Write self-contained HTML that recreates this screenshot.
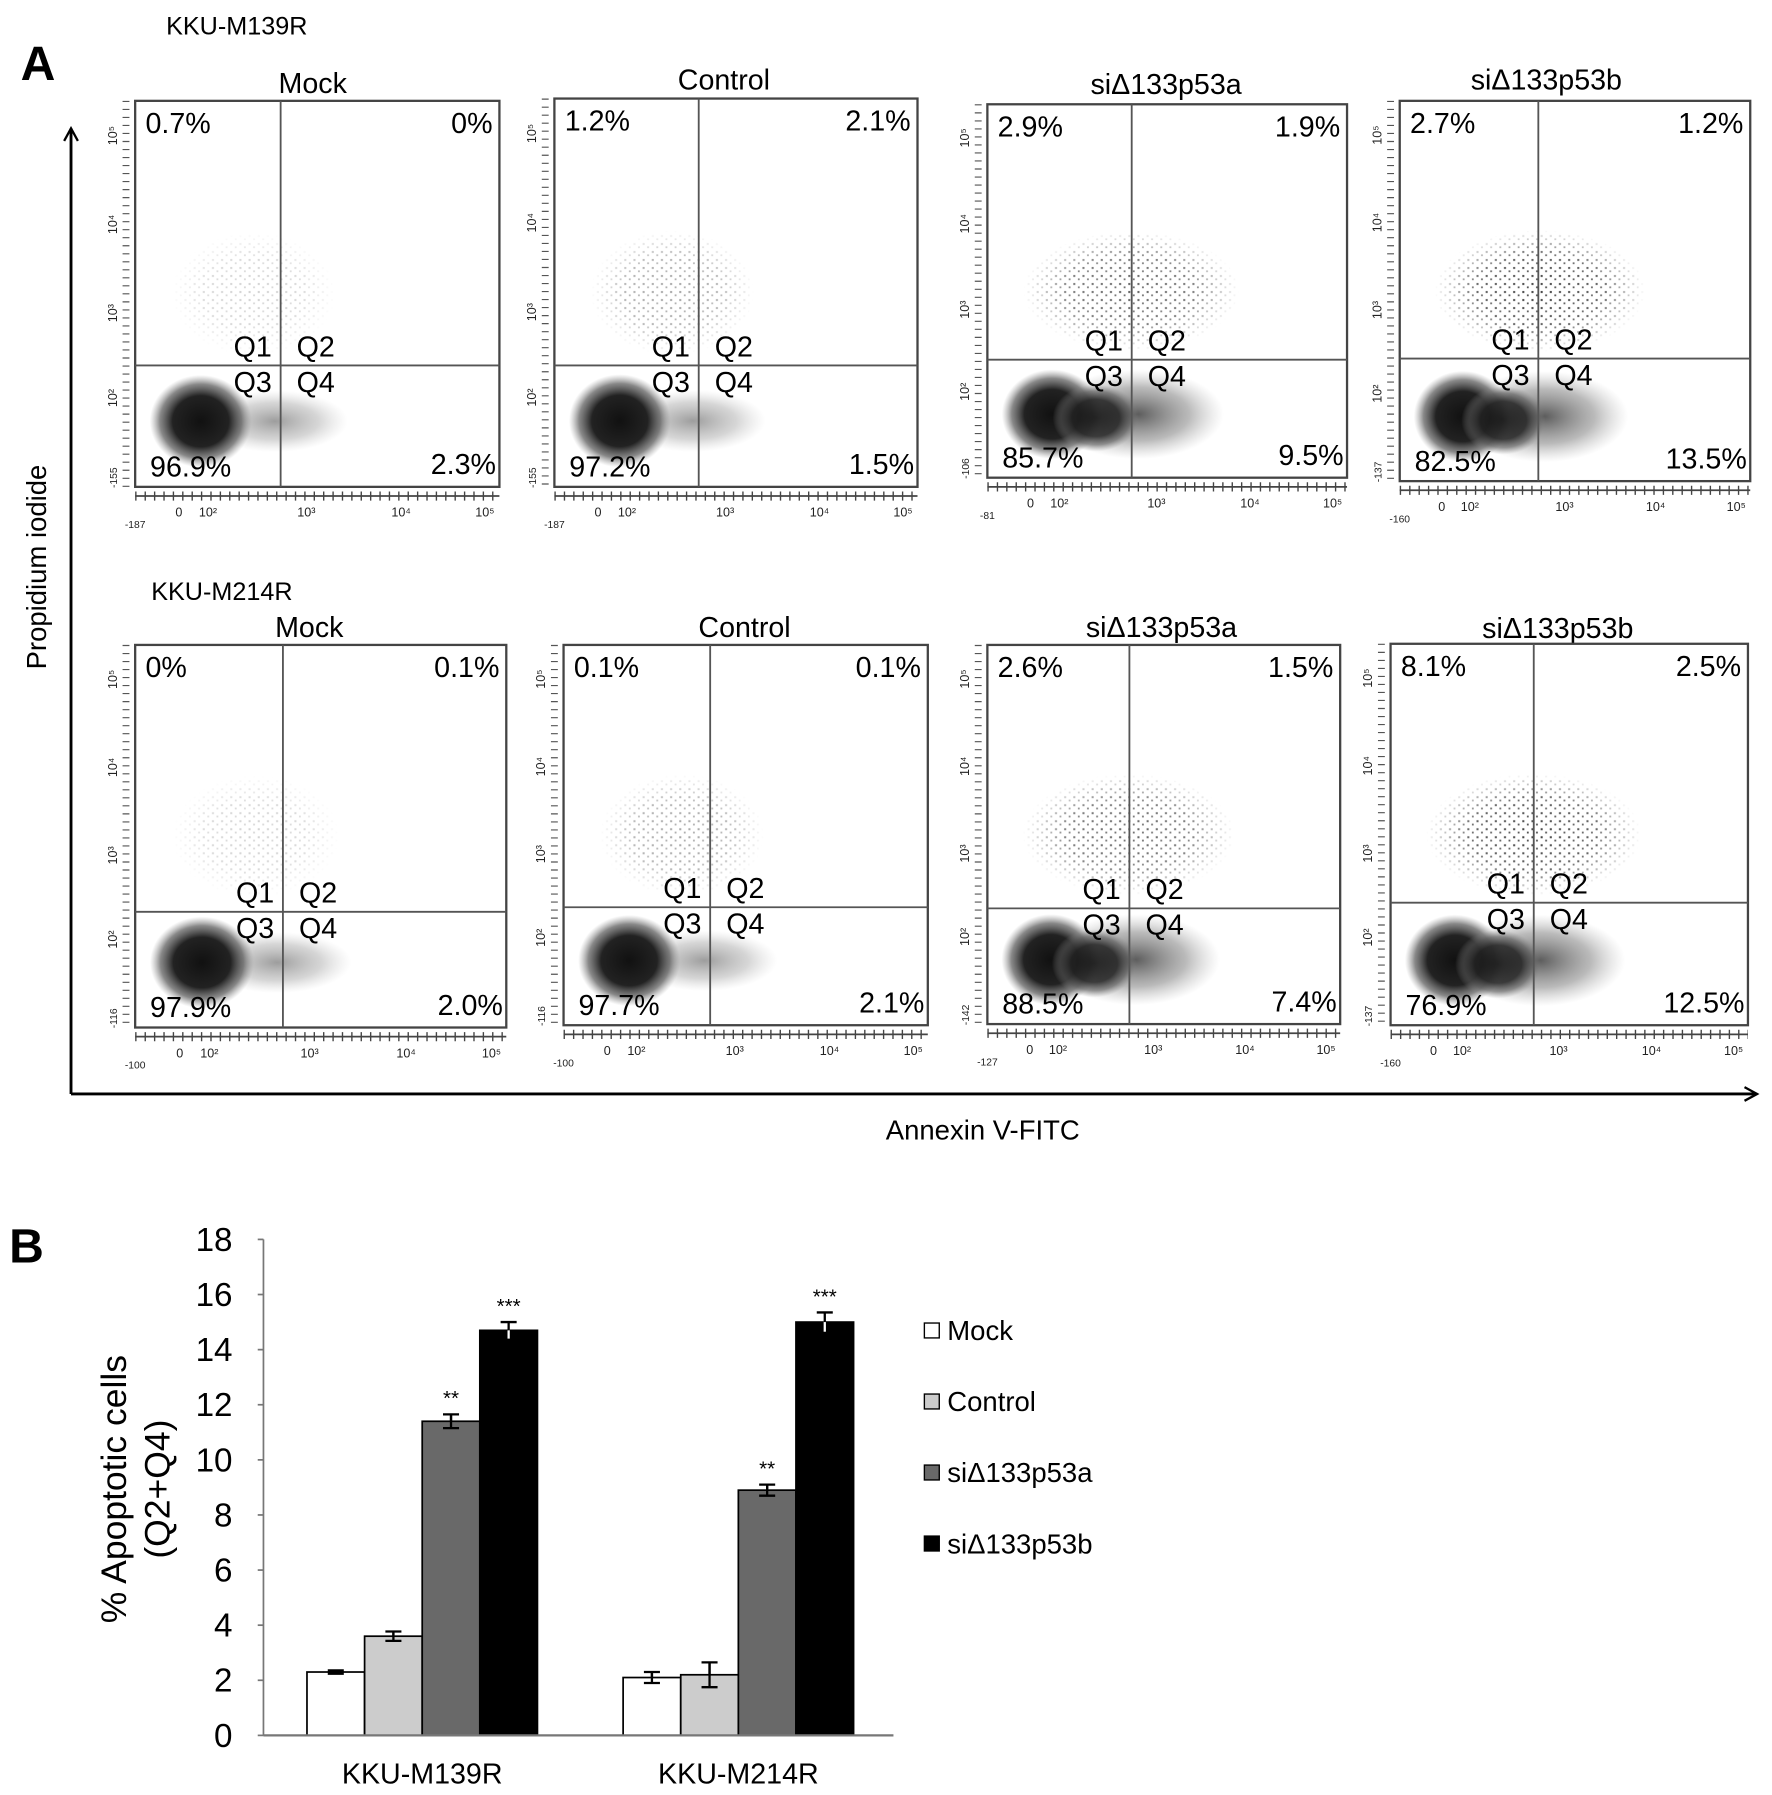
<!DOCTYPE html>
<html><head><meta charset="utf-8"><style>
html,body{margin:0;padding:0;background:#fff}
svg{display:block;font-family:"Liberation Sans",Arial,sans-serif}
</style></head><body>
<svg id="fig" width="1772" height="1795" viewBox="0 0 1547 1567" xmlns="http://www.w3.org/2000/svg">
<defs>
<radialGradient id="core"><stop offset="0" stop-color="#111"/><stop offset="0.55" stop-color="#222"/><stop offset="0.8" stop-color="#555" stop-opacity="0.7"/><stop offset="1" stop-color="#888" stop-opacity="0"/></radialGradient>
<radialGradient id="tail"><stop offset="0" stop-color="#333" stop-opacity="0.8"/><stop offset="0.6" stop-color="#666" stop-opacity="0.45"/><stop offset="1" stop-color="#999" stop-opacity="0"/></radialGradient>
<pattern id="dots" width="8" height="7" patternUnits="userSpaceOnUse"><rect x="1" y="2" width="1.8" height="1.8" fill="#222"/><rect x="5" y="5" width="1.6" height="1.6" fill="#333"/></pattern>
<radialGradient id="fade"><stop offset="0" stop-color="#fff" stop-opacity="1"/><stop offset="0.6" stop-color="#fff" stop-opacity="0.8"/><stop offset="1" stop-color="#fff" stop-opacity="0"/></radialGradient>
<mask id="m1" maskContentUnits="objectBoundingBox"><ellipse cx="0.5" cy="0.5" rx="0.5" ry="0.5" fill="url(#fade)"/></mask>
<marker id="arr" markerWidth="14" markerHeight="14" refX="12" refY="7" orient="auto" markerUnits="userSpaceOnUse"><path d="M1,1 L12,7 L1,13" fill="none" stroke="#000" stroke-width="2"/></marker>
</defs>
<g id="partA"></g>
<g id="partB"></g>
</svg>
<script>
// ---- Bar chart data ----
const categories = ["KKU-M139R", "KKU-M214R"];
const seriesNames = ["Mock", "Control", "si\u0394133p53a", "si\u0394133p53b"];
const seriesColors = ["#ffffff", "#cccccc", "#696969", "#000000"];
const mockValues = [2.3, 2.1];
const controlValues = [3.6, 2.2];
const siAValues = [11.4, 8.9];
const siBValues = [14.7, 15.0];
const mockErr = [0.06, 0.2];
const controlErr = [0.17, 0.45];
const siAErr = [0.25, 0.2];
const siBErr = [0.3, 0.35];
const sigLabels = [["", "", "**", "***"], ["", "", "**", "***"]];
const yTicks = [0, 2, 4, 6, 8, 10, 12, 14, 16, 18];

// ---- Flow panel data ----
const panelTitles = ["Mock", "Control", "si\u0394133p53a", "si\u0394133p53b"];
const rowLabels = ["KKU-M139R", "KKU-M214R"];
const q1Pct = [["0.7%","1.2%","2.9%","2.7%"],["0%","0.1%","2.6%","8.1%"]];
const q2Pct = [["0%","2.1%","1.9%","1.2%"],["0.1%","0.1%","1.5%","2.5%"]];
const q3Pct = [["96.9%","97.2%","85.7%","82.5%"],["97.9%","97.7%","88.5%","76.9%"]];
const q4Pct = [["2.3%","1.5%","9.5%","13.5%"],["2.0%","2.1%","7.4%","12.5%"]];
const xMinLabels = [["-187","-187","-81","-160"],["-100","-100","-127","-160"]];
const yMinLabels = [["-155","-155","-106","-137"],["-116","-116","-142","-137"]];

const NS = "http://www.w3.org/2000/svg";
function mk(parent, tag, attrs, text) {
  const e = document.createElementNS(NS, tag);
  for (const k in attrs) e.setAttribute(k, attrs[k]);
  if (text !== undefined) e.textContent = text;
  parent.appendChild(e);
  return e;
}

const boxes = [
  [[118,88,436,425,245,319,273,73],[484,86,801,425,610,319,632,70],[862,91,1176,417,988,314,1018,74],[1222,88,1528,420,1343,313,1350,70]],
  [[118,563,442,897,247,796,270,548],[492,563,810,895,620,792,650,548],[862,563,1170,894,986,793,1014,548],[1214,562,1526,895,1339,788,1360,549]]
];
const A = document.getElementById("partA");
let t;
t = mk(A,"text",{x:18,y:70,"font-size":42,"font-weight":"bold"},"A");


for (let r = 0; r < 2; r++) {
  t = mk(A,"text",{x: r===0?145:132, y: r===0?30:524, "font-size":22},rowLabels[r]);
  
  
  for (let c = 0; c < 4; c++) {
    const [x0,y0,x1,y1,vx,hy,tx,ty] = boxes[r][c];
    const g = mk(A,"g",{});
    
    
    t = mk(g,"text",{x:tx,y:ty+8,"font-size":25,"text-anchor":"middle"},panelTitles[c]);
    
    
    const w = x1-x0, h = y1-y0;
    const strong = c >= 2;
    const upper = c===3 ? 0.85 : (c===2 ? 0.7 : (c===1 ? 0.4 : 0.2));
    mk(g,"rect",{x:x0+w*(strong?0.1:0.1),y:y0+h*0.34,width:w*(strong?0.6:0.45),height:h*0.32,fill:"url(#dots)",opacity:upper,mask:"url(#m1)"});
    mk(g,"ellipse",{cx:vx+(strong?5:-5),cy:y1-h*0.17,rx:w*(strong?0.24:0.2),ry:h*(strong?0.12:0.08),fill:"url(#tail)",opacity:strong?1:0.6});
    mk(g,"ellipse",{cx:x0+w*0.18,cy:y1-h*0.17,rx:w*0.14,ry:h*0.12,fill:"url(#core)"});
    if (strong) mk(g,"ellipse",{cx:vx-w*0.1,cy:y1-h*0.16,rx:w*0.12,ry:h*0.09,fill:"url(#core)",opacity:0.85});
    mk(g,"rect",{x:x0,y:y0,width:w,height:h,fill:"none",stroke:"#444","stroke-width":2});
    mk(g,"line",{x1:vx,y1:y0,x2:vx,y2:y1,stroke:"#555","stroke-width":1.6});
    mk(g,"line",{x1:x0,y1:hy,x2:x1,y2:hy,stroke:"#555","stroke-width":1.6});
    mk(g,"line",{x1:x0,y1:y1+8,x2:x1,y2:y1+8,stroke:"#444","stroke-width":1.5});
    mk(g,"line",{x1:x0,y1:y1+8,x2:x1,y2:y1+8,stroke:"#444","stroke-width":8,"stroke-dasharray":"1.2 7"});
    mk(g,"line",{x1:x0-8,y1:y0,x2:x0-8,y2:y1,stroke:"#555","stroke-width":6,"stroke-dasharray":"1 6"});
    const xt = [["0",0.12],["10²",0.2],["10³",0.47],["10⁴",0.73],["10⁵",0.96]];
    xt.forEach(([s,f])=>mk(g,"text",{x:x0+w*f,y:y1+26,"font-size":11,"text-anchor":"middle",fill:"#222"},s));
    mk(g,"text",{x:x0,y:y1+36,"font-size":9,"text-anchor":"middle",fill:"#222"},xMinLabels[r][c]);
    [["10⁵",0.09],["10⁴",0.32],["10³",0.55],["10²",0.77]].forEach(([s,f])=>mk(g,"text",{x:x0-16,y:y0+h*f,"font-size":11,"text-anchor":"middle",fill:"#222",transform:`rotate(-90 ${x0-16} ${y0+h*f})`},s));
    mk(g,"text",{x:x0-16,y:y1-8,"font-size":9,"text-anchor":"middle",fill:"#222",transform:`rotate(-90 ${x0-16} ${y1-8})`},yMinLabels[r][c]);
    const qs = [["Q1",vx-41,hy-8],["Q2",vx+14,hy-8],["Q3",vx-41,hy+23],["Q4",vx+14,hy+23]];
    qs.forEach(([s,x,y])=>{ t=mk(g,"text",{x:x,y:y,"font-size":25},s);
      
       });
    t = mk(g,"text",{x:x0+9,y:y0+28,"font-size":25},q1Pct[r][c]);
     
    t = mk(g,"text",{x:x1-6,y:y0+28,"font-size":25,"text-anchor":"end"},q2Pct[r][c]);
     
    t = mk(g,"text",{x:x0+13,y:y1-9,"font-size":25},q3Pct[r][c]);
     
    t = mk(g,"text",{x:x1-3,y:y1-11,"font-size":25,"text-anchor":"end"},q4Pct[r][c]);
     
  }
}
let ax = mk(A,"line",{x1:62,y1:955,x2:62,y2:112,stroke:"#000","stroke-width":2.5,"marker-end":"url(#arr)"});
 
ax = mk(A,"line",{x1:62,y1:955,x2:1534,y2:955,stroke:"#000","stroke-width":2.5,"marker-end":"url(#arr)"});
 
t = mk(A,"text",{x:40,y:495,"font-size":24,"text-anchor":"middle",transform:"rotate(-90 40 495)"},"Propidium iodide");
 
t = mk(A,"text",{x:858,y:995,"font-size":24,"text-anchor":"middle"},"Annexin V-FITC");
 

// ---- Part B bar chart ----
const B = document.getElementById("partB");
const plotL = 230, plotR = 780, yTop = 1082, yBot = 1515, yMax = 18;
const yS = v => yBot - (yBot - yTop) * v / yMax;
const groupStart = [268, 544], barW = 50.3;
const xS = (gi, si) => groupStart[gi] + si * barW;
t = mk(B,"text",{x:8,y:1102,"font-size":42,"font-weight":"bold"},"B");
 
yTicks.forEach(v=>{
  mk(B,"line",{x1:plotL-5,y1:yS(v),x2:plotL,y2:yS(v),stroke:"#777","stroke-width":1.5});
  t = mk(B,"text",{x:203,y:yS(v)+10,"font-size":29,"text-anchor":"end"},String(v));
   
});
mk(B,"line",{x1:plotL,y1:yTop,x2:plotL,y2:yBot,stroke:"#777","stroke-width":1.5});
const allVals = [mockValues, controlValues, siAValues, siBValues];
const allErr = [mockErr, controlErr, siAErr, siBErr];
categories.forEach((cat, gi) => {
  allVals.forEach((vals, si) => {
    const x = xS(gi, si), v = vals[gi], e = allErr[si][gi];
    const b = mk(B,"rect",{x:x,y:yS(v),width:barW,height:yBot-yS(v),fill:seriesColors[si],stroke:"#000","stroke-width":1.5});
    
    
    const cx = x + barW/2;
    mk(B,"line",{x1:cx,y1:yS(v+e),x2:cx,y2:yS(v-e),stroke:seriesColors[si]==="#000000"?"#fff":"#000","stroke-width":2});
    mk(B,"line",{x1:cx,y1:yS(v+e),x2:cx,y2:yS(v),stroke:"#000","stroke-width":2});
    mk(B,"line",{x1:cx-7,y1:yS(v+e),x2:cx+7,y2:yS(v+e),stroke:"#000","stroke-width":2});
    if (seriesColors[si] !== "#000000") mk(B,"line",{x1:cx-7,y1:yS(v-e),x2:cx+7,y2:yS(v-e),stroke:"#000","stroke-width":2});
    const s = sigLabels[gi][si];
    if (s) { t = mk(B,"text",{x:cx,y:yS(v+e)-8,"font-size":18,"text-anchor":"middle"},s);
        }
  });
  t = mk(B,"text",{x:xS(gi,2),y:1557,"font-size":25,"text-anchor":"middle"},cat);
   
});
mk(B,"line",{x1:plotL,y1:yBot,x2:plotR,y2:yBot,stroke:"#777","stroke-width":2});
t = mk(B,"text",{x:110,y:1300,"font-size":31,"text-anchor":"middle",transform:"rotate(-90 110 1300)"},"% Apoptotic cells");
 
t = mk(B,"text",{x:148,y:1300,"font-size":31,"text-anchor":"middle",transform:"rotate(-90 148 1300)"},"(Q2+Q4)");
 
seriesNames.forEach((n, i) => {
  const y = 1162 + i * 62;
  const lg = mk(B,"g",{});
  
  
  mk(lg,"rect",{x:807,y:y-7,width:13,height:13,fill:seriesColors[i],stroke:"#000","stroke-width":1.2});
  mk(lg,"text",{x:827,y:y+8,"font-size":24},n);
});
</script>
</body></html>
